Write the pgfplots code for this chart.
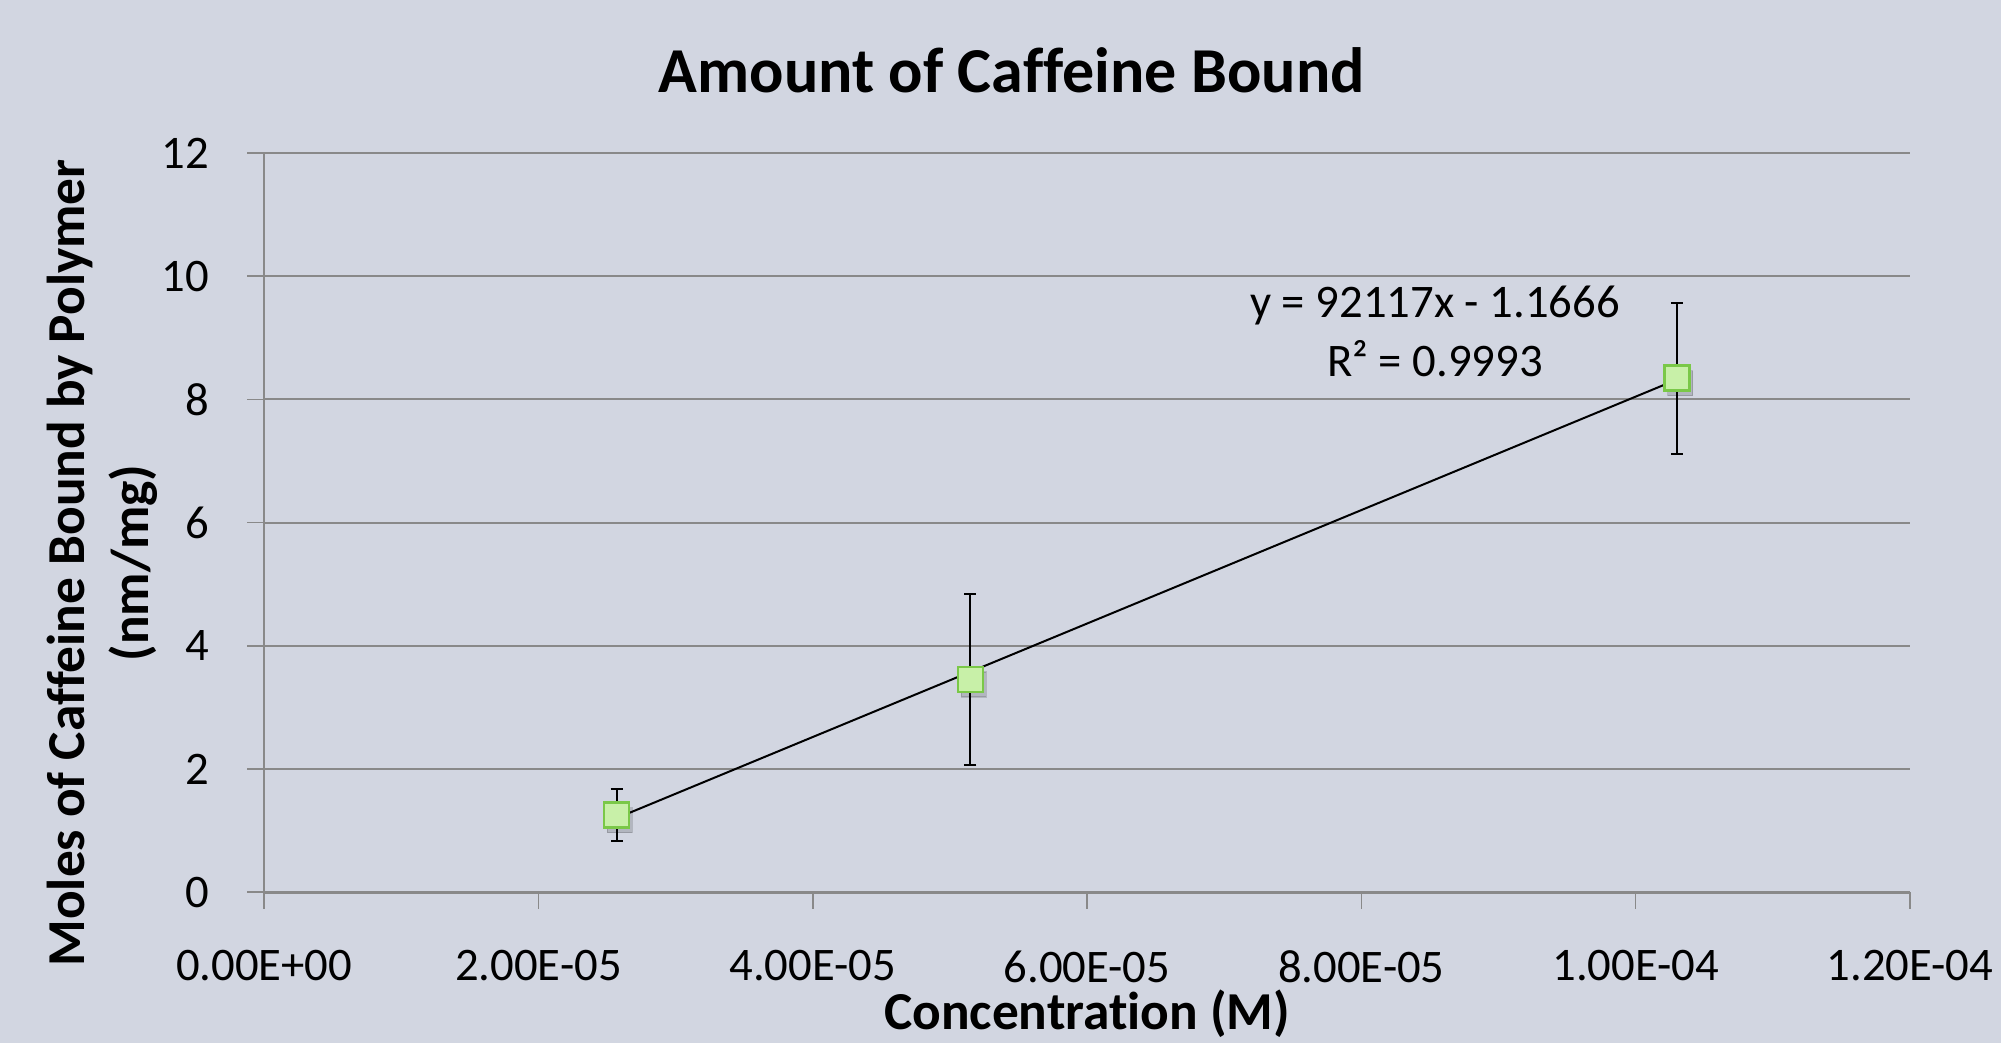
\documentclass[border=0pt]{standalone}
\usepackage{pgfplots}
\pgfplotsset{compat=1.18}
\usepackage{fontspec}
\setmainfont{Carlito}[Ligatures={NoCommon}]
\definecolor{bg}{RGB}{210,214,225}
\definecolor{gridc}{RGB}{137,137,137}
\definecolor{mfill}{RGB}{200,240,168}
\definecolor{mdraw}{RGB}{122,200,72}
\begin{document}
\begin{tikzpicture}
\fill[bg] (-79.2pt,-45.2pt) rectangle (520.8pt,267.5pt);
\useasboundingbox (-79.2pt,-45.2pt) rectangle (520.8pt,267.5pt);
\begin{axis}[
  at={(0pt,0pt)}, anchor=south west,
  scale only axis, width=493.5pt, height=221.6pt,
  xmin=0, xmax=1.2e-4, ymin=0, ymax=12,
  xtick={0,2e-5,4e-5,6e-5,8e-5,1e-4,1.2e-4},
  xticklabels={0.00E+00,2.00E-05,4.00E-05,6.00E-05,8.00E-05,1.00E-04,1.20E-04},
  scaled x ticks=false,
  ytick={0,2,4,6,8,10,12},
  ymajorgrids, grid style={gridc, line width=0.6pt},
  axis x line*=bottom, axis y line*=left,
  axis line style={gridc, line width=0.6pt},
  x axis line style={line width=0.9pt},
  tick style={gridc, line width=0.5pt},
  tick align=outside, major tick length=5pt,
  /pgf/number format/assume math mode=true,
  ticklabel style={font=\fontsize{14}{16}\selectfont},
  x tick label style={yshift=-9pt},
  y tick label style={xshift=-8pt},
  clip=false,
]
\addplot[only marks, mark=square*, mark size=3.75pt,
  mark options={xshift=1pt, yshift=-1.5pt, fill=black, draw=none, opacity=0.15}]
  coordinates {(2.57e-5,1.25) (5.15e-5,3.45) (1.03e-4,8.345)};
\addplot[only marks, mark=square*, mark size=3.75pt,
  mark options={fill=mfill, draw=mdraw, line width=0.8pt},
  error bars/.cd, y dir=both, y explicit,
  error bar style={black, line width=0.6pt},
  error mark options={rotate=90, mark size=1.8pt, black, line width=0.6pt}]
  coordinates {(2.57e-5,1.25) +- (0,0.425) (5.15e-5,3.45) +- (0,1.39) (1.03e-4,8.345) +- (0,1.225)};
\addplot[black, line width=0.6pt] coordinates {(2.57e-5,1.2008) (1.03e-4,8.3215)};
\end{axis}
\node[font=\bfseries\fontsize{19.2}{23}\selectfont] at (224.2pt,246.5pt) {Amount of Caffeine Bound};
\node[anchor=base, font=\bfseries\fontsize{16}{19}\selectfont] at (246.8pt,-41.2pt) {Concentration (M)};
\node[rotate=90, align=center, font=\bfseries\fontsize{16}{19.2}\selectfont] at (-48.6pt,98.7pt) {Moles of Caffeine Bound by Polymer\\(nm/mg)};
\node[align=center, font=\fontsize{14}{17.7}\selectfont] at (351.1pt,168pt) {y = 92117x - 1.1666\\R² = 0.9993};
\end{tikzpicture}
\end{document}
